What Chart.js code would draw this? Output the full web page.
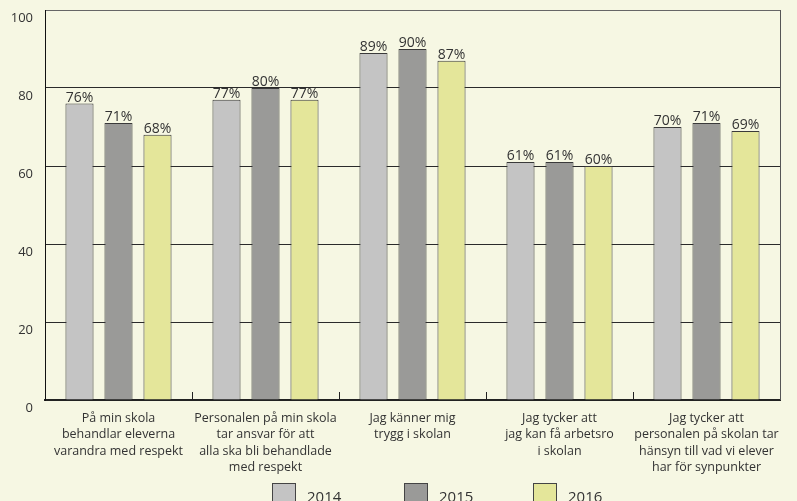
<!DOCTYPE html>
<html>
<head>
<meta charset="utf-8">
<script src="https://cdn.jsdelivr.net/npm/chart.js@4/dist/chart.umd.min.js"></script>
<style>
  html, body { margin: 0; padding: 0; background: #f6f7e3; }
  #wrap { width: 797px; height: 501px; }
</style>
</head>
<body>
<div id="wrap"><canvas id="c" width="797" height="501"></canvas></div>
<script>
const categories = [
  ["På min skola", "behandlar eleverna", "varandra med respekt"],
  ["Personalen på min skola", "tar ansvar för att", "alla ska bli behandlade", "med respekt"],
  ["Jag känner mig", "trygg i skolan"],
  ["Jag tycker att", "jag kan få arbetsro", "i skolan"],
  ["Jag tycker att", "personalen på skolan tar", "hänsyn till vad vi elever", "har för synpunkter"]
];
const seriesNames = ["2014", "2015", "2016"];
const values2014 = [76, 77, 89, 61, 70];
const values2015 = [71, 80, 90, 61, 71];
const values2016 = [68, 77, 87, 60, 69];
const yTicks = [0, 20, 40, 60, 80, 100];

const colors = ["#c4c4c4", "#9a9a98", "#e4e69a"];
const FONT = "'Open Sans', 'Noto Sans', sans-serif";
const TEXT = "#333333";

const decorPlugin = {
  id: 'decor',
  beforeDraw(chart) {
    const ctx = chart.ctx;
    ctx.save();
    ctx.fillStyle = '#f6f7e3';
    ctx.fillRect(0, 0, chart.width, chart.height);
    ctx.restore();
  },
  afterDraw(chart) {
    const ctx = chart.ctx;
    const a = chart.chartArea;
    const xs = chart.scales.x;
    ctx.save();
    ctx.strokeStyle = '#555';
    ctx.lineWidth = 1;
    ctx.beginPath();
    ctx.moveTo(Math.round(a.right) + 0.5, a.top);
    ctx.lineTo(Math.round(a.right) + 0.5, a.bottom);
    ctx.stroke();
    ctx.strokeStyle = '#222';
    for (let i = 1; i < categories.length; i++) {
      const x = Math.round((xs.getPixelForValue(i - 1) + xs.getPixelForValue(i)) / 2) + 0.5;
      ctx.beginPath();
      ctx.moveTo(x, a.bottom);
      ctx.lineTo(x, a.bottom - 8);
      ctx.stroke();
    }
    const startX = 272, gaps = [0, 132, 261];
    const boxY = 483;
    ctx.font = "15px " + FONT;
    ctx.textBaseline = 'alphabetic';
    ctx.textAlign = 'left';
    chart.data.datasets.forEach((ds, i) => {
      const x = startX + gaps[i];
      ctx.fillStyle = ds.backgroundColor;
      ctx.fillRect(x + 0.5, boxY + 0.5, 23, 20);
      ctx.strokeStyle = '#444';
      ctx.lineWidth = 1;
      ctx.strokeRect(x + 0.5, boxY + 0.5, 23, 20);
      ctx.fillStyle = TEXT;
      ctx.fillText(ds.label, x + 35, 502);
    });
    ctx.restore();
  },
  afterDatasetsDraw(chart) {
    const ctx = chart.ctx;
    ctx.save();
    ctx.font = "14px " + FONT;
    ctx.fillStyle = TEXT;
    ctx.textAlign = 'center';
    ctx.textBaseline = 'bottom';
    chart.data.datasets.forEach((ds, di) => {
      chart.getDatasetMeta(di).data.forEach((bar, i) => {
        ctx.fillText(ds.data[i] + '%', bar.x, bar.y + 1);
      });
    });
    ctx.restore();
  }
};

new Chart(document.getElementById('c'), {
  type: 'bar',
  data: {
    labels: categories,
    datasets: [
      { label: seriesNames[0], data: values2014, backgroundColor: colors[0] },
      { label: seriesNames[1], data: values2015, backgroundColor: colors[1] },
      { label: seriesNames[2], data: values2016, backgroundColor: colors[2] }
    ]
  },
  options: {
    responsive: false,
    animation: false,
    devicePixelRatio: 1,
    layout: { padding: { top: 10, right: 17, left: 0, bottom: 0 } },
    datasets: {
      bar: {
        borderColor: '#3a3a3a',
        borderWidth: 1,
        categoryPercentage: 0.796,
        barPercentage: 0.72
      }
    },
    plugins: {
      legend: { display: false },
      tooltip: { enabled: false }
    },
    scales: {
      x: {
        grid: { display: false },
        border: { display: true, color: '#222', width: 2 },
        ticks: {
          color: TEXT,
          font: { family: FONT, size: 12.5, lineHeight: 1.32 },
          padding: 2,
          maxRotation: 0,
          autoSkip: false
        },
        afterFit(scale) { scale.height = 101; scale.paddingLeft = 0; scale.paddingRight = 0; }
      },
      y: {
        min: 0,
        max: 100,
        afterBuildTicks(scale) { scale.ticks = yTicks.map(v => ({ value: v })); },
        grid: {
          drawTicks: false,
          color: (c) => c.tick && c.tick.value === 100 ? '#666' : '#2a2a2a',
          lineWidth: 1
        },
        border: { display: true, color: '#111', width: 1 },
        ticks: {
          color: TEXT,
          font: { family: FONT, size: 13 },
          padding: 12,
          labelOffset: 8
        },
        afterFit(scale) { scale.width = 45; scale.paddingTop = 0; scale.paddingBottom = 0; }
      }
    }
  },
  plugins: [decorPlugin]
});
</script>
</body>
</html>
